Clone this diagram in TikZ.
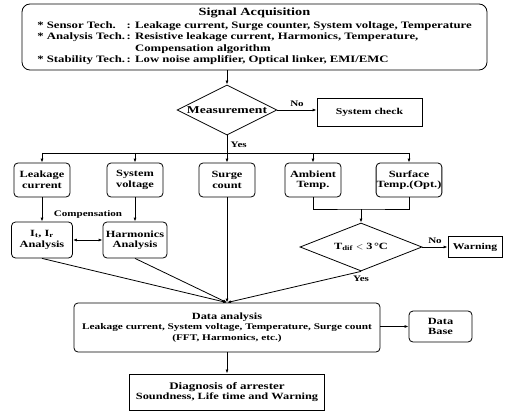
\documentclass[tikz,border=0pt]{standalone}
\usepackage{fontspec}
\setmainfont{Liberation Serif}[FakeStretch=1.3]
\usetikzlibrary{shapes.geometric,positioning,arrows.meta}
\begin{document}
\begin{tikzpicture}[x=1pt,y=-1pt,line width=0.8pt,
        font=\bfseries\fontsize{9.5}{10.5}\selectfont,
        box/.style={draw,rounded corners=4pt,align=center,inner sep=1pt},
        sqbox/.style={draw,align=center,inner sep=1pt},
        cond/.style={draw,diamond,shape aspect=2,inner sep=0pt,align=center},
        arr/.style={-{Latex[length=4pt,width=3pt]}}]
        \useasboundingbox (0,0) rectangle (505,414);
        \node[box,rounded corners=8pt,minimum width=465pt,minimum height=66pt,inner sep=0pt] (acq) at (254.5,37)
            {\fontsize{9.8}{11.5}\selectfont\begin{tabular}{@{}l@{\,}l@{}}
            \multicolumn{2}{c}{\fontsize{11}{12}\selectfont Signal Acquisition}\\[1pt]
            {*} Sensor Tech. & : Leakage current, Surge counter, System voltage, Temperature\\
            {*} Analysis Tech. & : Resistive leakage current, Harmonics, Temperature,\\
            & \phantom{: }Compensation algorithm\\
            {*} Stability Tech. & : Low noise amplifier, Optical linker, EMI/EMC
            \end{tabular}};
        \node[cond,minimum width=100pt,minimum height=50pt,font=\bfseries\fontsize{10.5}{12}\selectfont] (meas) at (227,110) {Measurement};
        \node[sqbox,minimum width=105pt,minimum height=28pt,font=\bfseries\fontsize{9}{10}\selectfont] (chk) at (369.5,112) {System check};
        \node[box,minimum width=56pt,minimum height=34pt] (leak) at (42,180) {Leakage\\current};
        \node[box,minimum width=56pt,minimum height=34pt] (volt) at (135,180) {System\\voltage};
        \node[box,minimum width=56pt,minimum height=34pt] (surge) at (227,180) {Surge\\count};
        \node[box,minimum width=56pt,minimum height=34pt] (amb) at (313,180) {Ambient\\Temp.};
        \node[box,minimum width=56pt,minimum height=34pt,inner sep=0.5pt] (surf) at (409,180) {Surface\\Temp.(Opt.)};
        \node[box,minimum width=61pt,minimum height=36pt] (itr) at (42,240) {I\textsubscript{t}, I\textsubscript{r}\\Analysis};
        \node[box,minimum width=64pt,minimum height=36pt] (harm) at (135,240) {Harmonics\\Analysis};
        \node[font=\bfseries\fontsize{8.5}{10}\selectfont] (comp) at (88,214) {Compensation};
        \node[cond,minimum width=122pt,minimum height=48pt] (tdif) at (361,247) {T\textsubscript{dif} $<$ 3\,°C};
        \node[sqbox,minimum width=54pt,minimum height=21pt,font=\bfseries\fontsize{9}{10}\selectfont] (warn) at (475,247) {Warning};
        \node[box,minimum width=306pt,minimum height=49pt,font=\bfseries\fontsize{8.7}{10.5}\selectfont] (data) at (227,327.5)
            {{\fontsize{9.5}{11}\selectfont Data analysis}\\Leakage current, System voltage, Temperature, Surge count\\(FFT, Harmonics, etc.)};
        \node[box,minimum width=63pt,minimum height=31pt] (base) at (440.5,326.5) {Data\\Base};
        \node[sqbox,line width=1pt,minimum width=195pt,minimum height=36pt] (diag) at (227,392)
            {{\fontsize{10}{11}\selectfont Diagnosis of arrester}\\Soundness, Life time and Warning};
        \coordinate (split) at (227,153);
        \coordinate (join) at (361,209);
        \draw[arr] (acq.south -| meas.north) -- (meas.north);
        \draw[arr] (meas.east) -- (meas.east -| chk.west) node[midway,above,font=\bfseries\fontsize{8.5}{10}\selectfont] {No};
        \draw (meas.south) -- (split) node[pos=0.55,right,font=\bfseries\fontsize{8.5}{10}\selectfont] {Yes};
        \draw (split -| leak.north) -- (split -| surf.north);
        \foreach \n in {leak,volt,surge,amb,surf}
            \draw[arr] (split -| \n.north) -- (\n.north);
        \draw[arr] (leak) -- (itr);
        \draw[arr] (volt) -- (harm);
        \draw[{Latex[length=4pt,width=3pt]}-{Latex[length=4pt,width=3pt]}] (itr) -- (harm);
        \draw (amb.south) |- (join) -| (surf.south);
        \draw[arr] (join) -- (tdif.north);
        \draw[arr] (tdif.east) -- (warn.west) node[midway,above,font=\bfseries\fontsize{8.5}{10}\selectfont] {No};
        \node[below=1pt of tdif.south,font=\bfseries\fontsize{8.5}{10}\selectfont] (yes2) {Yes};
        \foreach \n in {itr,harm,surge,tdif}
            \draw[arr] (\n.south) -- (data.north);
        \draw[arr] (data.east |- base) -- (base.west);
        \draw[arr] (data) -- (diag);
\end{tikzpicture}
\end{document}
